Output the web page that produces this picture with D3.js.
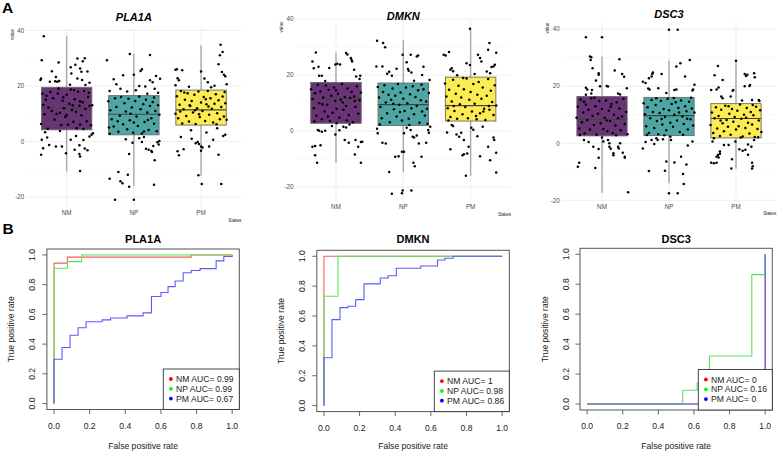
<!DOCTYPE html>
<html><head><meta charset="utf-8">
<script src="https://cdn.jsdelivr.net/npm/d3@7"></script>
<style>body{margin:0;background:#fff}svg{display:block;font-family:"Liberation Sans",Arial,Helvetica,sans-serif}</style>
</head><body><svg id="c" width="777" height="454"></svg>
<script>
// ---------------- DATA ----------------
const genes = ["PLA1A", "DMKN", "DSC3"];
const states = ["NM", "NP", "PM"];
const stateColors = ["#440154", "#21908C", "#FDE725"];
const yTickValues = [-20, 0, 20, 40];
const yMinorValues = [-10, 10, 30];

// box statistics per gene: [NM, NP, PM]
const q1Values = [[4.2, 2.4, 5.9], [2.8, 2.0, 3.6], [2.6, 2.7, 1.9]];
const medianValues = [[11.9, 9.8, 11.4], [11.6, 9.5, 9.1], [8.4, 9.7, 8.7]];
const q3Values = [[19.5, 16.5, 18.5], [17.4, 17.2, 19.3], [16.4, 16.1, 13.9]];
const whiskerLow = [[-10.8, -16.1, -12.3], [-11.3, -14.7, -16.0], [-17.3, -14.0, -8.9]];
const whiskerHigh = [[37.9, 31.7, 34.6], [28.1, 32.6, 36.6], [30.4, 29.0, 29.0]];

// jittered points: [jitter (fraction of category step), value]
const pla1aNM = [[-0.34,37.9],[-0.37,29.2],[-0.22,25.3],[-0.12,28.4],[0.16,29.9],[0.24,28.9],[0.27,30.0],[0.06,26.7],[0.13,27.6],[0.2,26.3],[0.22,25.1],[0.31,25.2],[-0.38,22.7],[-0.39,22.1],[-0.25,21.5],[-0.17,21.7],[-0.14,21.5],[-0.11,21.8],[-0.16,23.2],[0.07,24.5],[0.16,22.7],[0.23,22.1],[0.34,21.1],[0.05,20.4],[0.28,20.3],
[-0.36,17.2],[-0.3,16.5],[-0.33,9.8],[-0.35,13.1],[-0.27,12.2],[-0.24,17.8],[-0.2,15.6],[-0.18,7.8],[-0.15,9.9],[-0.13,17.3],[-0.1,10.3],[-0.08,5.9],[-0.06,14.7],[-0.04,12.0],[-0.02,8.9],[0.0,16.8],[0.02,6.0],[0.04,13.6],[0.06,18.7],[0.08,11.3],[0.1,7.1],[0.12,15.2],[0.14,10.7],[0.15,4.8],[0.17,17.9],[0.19,12.9],[0.2,6.1],[0.22,9.4],[0.24,14.1],[0.26,18.2],[0.28,11.8],[0.3,7.3],[0.32,16.1],[0.34,12.9],[0.36,5.8],[0.38,13.0],[-0.38,6.3],[-0.28,4.6],[-0.22,11.0],[-0.12,19.1],[0.0,9.5],[0.11,18.5],[0.25,4.5],[0.33,17.5],[-0.05,15.9],[0.2,14.5],[-0.31,15.0],[0.09,13.0],
[-0.38,-4.8],[-0.37,0.6],[-0.29,1.4],[-0.26,-1.3],[-0.35,-2.4],[-0.16,-1.8],[-0.07,-1.8],[-0.01,-4.2],[0.06,0.6],[0.12,-3.0],[0.19,-1.4],[0.19,-4.5],[0.2,-5.4],[0.2,-10.6],[0.27,-2.5],[0.31,-3.2],[0.37,2.4],[0.34,1.8],[-0.32,3.3],[0.25,0.5],[0.14,2.0],[-0.1,3.8],[0.39,3.0]];
const pla1aNP = [[-0.4,29.2],[-0.06,31.5],[0.24,31.1],[0.0,24.0],[0.1,25.4],[0.12,26.0],[-0.3,22.4],[-0.26,20.6],[-0.2,19.0],[-0.16,23.8],[-0.1,18.0],[0.03,18.4],[0.08,20.0],[0.17,19.8],[0.24,22.0],[0.28,21.3],[0.31,19.0],[0.36,17.5],[0.39,22.6],[0.33,23.6],[-0.36,18.2],[0.2,17.2],
[-0.38,14.5],[-0.35,11.2],[-0.33,8.0],[-0.3,5.4],[-0.28,15.6],[-0.26,12.4],[-0.23,3.5],[-0.21,9.3],[-0.19,16.0],[-0.16,6.2],[-0.14,13.8],[-0.12,10.8],[-0.1,4.4],[-0.08,15.4],[-0.06,7.6],[-0.03,12.2],[-0.01,3.1],[0.02,14.6],[0.04,9.0],[0.06,5.6],[0.08,16.2],[0.1,11.6],[0.12,2.9],[0.14,13.4],[0.16,7.0],[0.18,15.0],[0.2,10.4],[0.22,4.1],[0.24,12.8],[0.26,8.4],[0.28,14.2],[0.3,6.4],[0.32,11.0],[0.34,3.7],[0.36,13.0],[0.38,9.6],[-0.36,2.8],[-0.24,7.3],[0.0,6.8],[0.15,3.6],[0.3,15.8],[-0.05,10.0],[0.21,7.7],[-0.37,5.0],
[-0.36,-13.4],[-0.23,-11.0],[-0.2,-14.3],[-0.17,-15.0],[-0.09,-12.0],[-0.07,-16.3],[-0.28,-21.0],[0.0,-21.0],[-0.07,-4.5],[-0.02,-0.5],[0.08,1.2],[0.12,-0.2],[0.18,-2.6],[0.26,-3.4],[0.27,-3.8],[0.29,-1.6],[0.31,-6.8],[0.35,-0.3],[0.37,-1.1],[0.38,0.2],[0.3,-15.6],[0.15,1.6],[-0.12,0.8],[0.22,-3.0]];
const pla1aPM = [[0.29,34.8],[0.32,32.2],[0.28,31.0],[0.26,27.8],[0.0,25.2],[-0.38,25.8],[-0.36,26.0],[-0.28,25.6],[-0.35,22.8],[-0.33,22.0],[-0.38,20.2],[0.05,22.7],[0.15,19.5],[0.31,25.0],[0.34,24.0],[0.38,20.6],[0.36,23.5],[0.1,21.3],[-0.18,19.7],[0.2,20.1],
[-0.38,10.0],[-0.36,16.3],[-0.34,8.4],[-0.32,13.2],[-0.3,18.2],[-0.28,6.5],[-0.26,11.6],[-0.24,15.0],[-0.22,9.2],[-0.2,17.4],[-0.18,7.2],[-0.16,12.8],[-0.14,14.6],[-0.12,10.4],[-0.1,16.8],[-0.08,6.3],[-0.06,12.0],[-0.04,18.0],[-0.02,8.8],[0.0,14.0],[0.02,11.0],[0.04,16.0],[0.06,7.4],[0.08,13.4],[0.1,18.2],[0.12,9.6],[0.14,15.6],[0.16,11.8],[0.18,6.8],[0.2,13.6],[0.22,17.0],[0.24,10.2],[0.26,14.8],[0.28,8.0],[0.3,12.4],[0.32,16.2],[0.34,9.0],[0.36,13.8],[0.38,7.8],[-0.31,10.8],[-0.17,13.0],[-0.03,9.8],[0.11,12.6],[0.23,6.2],[0.35,17.8],[-0.25,17.6],[0.07,15.2],[-0.09,11.2],
[-0.35,-3.5],[-0.33,-5.0],[-0.26,-2.8],[-0.14,1.0],[-0.08,-0.6],[-0.05,-0.2],[-0.03,-0.9],[0.0,-1.8],[0.0,-3.3],[0.02,-2.2],[-0.04,-12.2],[0.01,-15.3],[0.3,-15.3],[0.26,-4.8],[0.12,-1.8],[0.18,0.6],[0.33,2.0],[0.36,2.4],[0.24,4.8],[-0.15,4.0],[0.08,3.2],[-0.3,1.6]];

const dmknNM = [[-0.3,28.1],[-0.35,24.9],[-0.33,22.5],[-0.26,23.0],[-0.25,19.8],[-0.21,19.8],[-0.1,22.6],[-0.01,23.8],[0.02,24.1],[0.15,27.9],[0.17,27.4],[0.22,26.1],[0.24,24.9],[0.27,21.9],[0.3,19.5],[0.36,19.8],[0.35,18.6],[0.23,25.5],[0.06,23.8],[-0.16,17.9],
[-0.37,15.0],[-0.35,11.5],[-0.33,8.2],[-0.31,13.5],[-0.29,5.5],[-0.27,16.6],[-0.25,10.0],[-0.23,14.2],[-0.21,4.2],[-0.19,12.0],[-0.17,7.0],[-0.15,16.3],[-0.13,9.4],[-0.11,14.8],[-0.09,3.6],[-0.07,12.6],[-0.05,6.6],[-0.03,15.6],[-0.01,10.8],[0.01,8.0],[0.03,13.4],[0.05,4.8],[0.07,11.2],[0.09,16.8],[0.11,7.6],[0.13,12.2],[0.15,9.0],[0.17,15.2],[0.19,5.8],[0.21,11.8],[0.23,14.0],[0.25,3.2],[0.27,12.4],[0.29,8.6],[0.31,16.0],[0.33,6.2],[0.35,11.0],[0.37,13.8],[-0.2,9.6],[0.0,14.6],[0.16,3.8],[-0.32,3.4],[0.1,10.2],[-0.12,5.2],[0.28,10.8],
[-0.35,-5.6],[-0.31,-5.3],[-0.23,-5.1],[-0.31,-8.6],[-0.28,-11.3],[-0.21,-0.2],[-0.25,0.1],[-0.27,0.4],[-0.16,0.1],[-0.01,-1.2],[0.05,0.3],[0.11,1.6],[0.15,1.3],[0.13,-3.2],[0.19,-4.2],[0.29,-3.2],[0.33,-5.6],[0.28,-8.4],[0.37,-11.3],[0.39,-3.8],[0.37,-3.9],[0.01,2.8],[0.2,2.4],[-0.06,1.8]];
const dmknNP = [[-0.39,32.3],[-0.3,31.5],[-0.27,30.0],[-0.4,23.1],[-0.31,23.1],[-0.21,21.2],[-0.17,19.8],[-0.1,22.3],[-0.01,27.3],[0.05,24.6],[0.07,22.2],[0.08,21.6],[0.12,21.0],[0.11,27.3],[0.2,26.7],[0.22,27.0],[0.28,20.1],[0.39,18.3],[-0.24,20.5],[0.16,18.0],[0.3,23.0],
[-0.38,15.8],[-0.36,12.0],[-0.34,8.6],[-0.32,4.6],[-0.3,14.0],[-0.28,16.4],[-0.26,10.2],[-0.24,6.4],[-0.22,13.0],[-0.2,3.2],[-0.18,11.2],[-0.16,15.2],[-0.14,7.8],[-0.12,12.6],[-0.1,5.2],[-0.08,16.8],[-0.06,9.4],[-0.04,13.8],[-0.02,3.8],[0.0,11.6],[0.02,7.2],[0.04,15.6],[0.06,10.0],[0.08,4.4],[0.1,13.2],[0.12,8.2],[0.14,16.0],[0.16,6.0],[0.18,12.2],[0.2,9.0],[0.22,14.6],[0.24,3.0],[0.26,11.0],[0.28,7.0],[0.3,15.0],[0.32,5.6],[0.34,10.6],[0.36,2.6],[0.38,13.6],[-0.35,2.4],[-0.15,9.8],[0.09,2.2],[0.27,16.6],[-0.05,6.8],[0.35,8.0],
[-0.39,0.8],[-0.38,-0.8],[-0.31,-4.2],[-0.26,-4.4],[-0.12,-9.2],[-0.07,-9.0],[-0.02,-7.4],[0.01,-7.4],[0.01,-0.8],[-0.21,-14.6],[0.05,1.2],[0.11,0.4],[0.14,-2.0],[0.16,-2.3],[0.2,-1.6],[0.23,-4.4],[0.27,-9.2],[0.15,-11.3],[0.17,-12.6],[0.34,-4.2],[0.38,-0.6],[0.37,0.4],[0.4,1.6],[-0.02,-22.2],[-0.01,-21.2],[-0.17,-22.4],[0.12,-21.2]];
const dmknPM = [[-0.01,36.6],[-0.4,27.3],[-0.37,27.0],[-0.32,28.3],[-0.28,22.5],[-0.3,21.9],[-0.26,21.4],[-0.06,24.3],[-0.01,23.6],[0.11,27.3],[0.16,24.9],[0.14,26.1],[0.26,29.1],[0.28,31.5],[0.34,23.1],[0.31,22.9],[0.36,23.7],[0.24,21.3],[0.29,20.7],[0.06,20.4],[-0.2,20.0],[0.38,28.0],
[-0.38,17.0],[-0.36,12.4],[-0.34,8.2],[-0.32,14.8],[-0.3,5.0],[-0.28,10.6],[-0.26,18.4],[-0.24,7.2],[-0.22,13.4],[-0.2,4.4],[-0.18,16.2],[-0.16,9.6],[-0.14,12.0],[-0.12,6.0],[-0.1,15.0],[-0.08,8.6],[-0.06,18.8],[-0.04,4.6],[-0.02,11.2],[0.0,14.0],[0.02,7.0],[0.04,16.8],[0.06,9.8],[0.08,5.4],[0.1,13.0],[0.12,17.6],[0.14,6.4],[0.16,11.6],[0.18,15.6],[0.2,8.0],[0.22,4.0],[0.24,12.6],[0.26,18.6],[0.28,7.6],[0.3,14.4],[0.32,10.4],[0.34,5.8],[0.36,16.4],[0.38,9.2],[-0.33,3.8],[-0.11,19.0],[0.09,4.2],[0.27,9.0],[-0.25,9.0],[0.19,7.0],
[-0.28,2.2],[-0.26,1.8],[-0.3,-6.5],[-0.21,-1.2],[-0.17,-2.0],[-0.14,-0.6],[-0.1,-3.2],[-0.12,-8.6],[-0.1,-8.3],[-0.05,-8.0],[-0.03,-5.6],[0.01,1.2],[0.1,-1.8],[0.14,-9.0],[0.18,1.6],[0.26,-5.6],[0.29,-10.4],[0.34,-2.3],[0.35,-3.2],[0.38,-7.7],[0.38,-14.8],[-0.07,-16.0],[-0.35,-0.5],[0.04,0.5]];

const dsc3NM = [[-0.24,37.2],[0.0,37.2],[-0.18,30.4],[-0.16,30.2],[-0.17,29.2],[-0.14,26.3],[-0.05,24.6],[-0.05,24.0],[-0.24,19.5],[-0.22,18.9],[-0.24,17.0],[-0.15,18.7],[-0.16,17.5],[-0.09,22.0],[0.07,20.1],[0.09,19.9],[0.19,25.5],[0.26,29.5],[0.3,24.3],[0.33,23.3],[0.37,19.3],[0.24,17.5],[0.27,17.1],[-0.03,20.0],
[-0.38,9.0],[-0.36,12.8],[-0.34,5.2],[-0.32,15.4],[-0.3,7.4],[-0.28,10.8],[-0.26,3.4],[-0.24,13.6],[-0.22,8.2],[-0.2,11.8],[-0.18,4.8],[-0.16,15.8],[-0.14,9.6],[-0.12,6.4],[-0.1,13.0],[-0.08,3.0],[-0.06,10.4],[-0.04,14.8],[-0.02,7.0],[0.0,12.0],[0.02,5.0],[0.04,9.0],[0.06,15.0],[0.08,4.2],[0.1,11.4],[0.12,7.8],[0.14,13.8],[0.16,3.6],[0.18,10.0],[0.2,6.2],[0.22,14.4],[0.24,8.8],[0.26,12.2],[0.28,4.6],[0.3,9.4],[0.32,15.6],[0.34,6.8],[0.36,11.0],[0.38,3.2],[-0.33,2.9],[-0.11,16.0],[0.07,8.0],[0.21,2.8],[-0.27,14.6],[0.13,12.8],
[-0.36,-8.2],[-0.34,-6.8],[-0.27,1.2],[-0.13,-1.2],[-0.1,-8.7],[-0.05,-2.0],[-0.05,-5.1],[0.02,0.6],[0.09,1.2],[0.11,0.0],[0.11,-1.2],[0.13,-1.9],[0.17,-3.5],[0.17,-4.2],[0.24,-1.2],[0.25,-1.8],[0.27,0.0],[0.31,-3.3],[0.34,-4.7],[0.34,-5.1],[0.39,-17.2],[0.0,2.0],[-0.2,0.5]];
const dsc3NP = [[0.0,39.8],[0.13,39.8],[-0.39,21.6],[-0.35,21.1],[-0.29,18.9],[-0.25,24.3],[-0.24,24.8],[-0.26,23.4],[-0.3,22.8],[-0.11,24.3],[-0.16,19.3],[0.11,26.9],[0.17,28.1],[0.24,23.4],[0.31,29.2],[0.35,18.5],[0.36,18.9],[0.38,20.5],[0.08,18.7],[0.11,18.9],[-0.04,17.6],[-0.31,19.2],
[-0.38,14.0],[-0.36,10.2],[-0.34,6.0],[-0.32,12.6],[-0.3,3.6],[-0.28,8.8],[-0.26,15.2],[-0.24,11.0],[-0.22,5.4],[-0.2,13.4],[-0.18,7.8],[-0.16,3.2],[-0.14,10.6],[-0.12,14.8],[-0.1,6.6],[-0.08,12.0],[-0.06,9.2],[-0.04,4.6],[-0.02,15.6],[0.0,11.6],[0.02,7.2],[0.04,13.8],[0.06,5.8],[0.08,10.0],[0.1,14.4],[0.12,8.0],[0.14,12.4],[0.16,4.0],[0.18,15.0],[0.2,9.4],[0.22,6.8],[0.24,13.0],[0.26,11.2],[0.28,4.8],[0.3,14.6],[0.32,8.4],[0.34,12.2],[0.36,6.2],[0.38,10.8],[-0.33,2.9],[-0.19,15.8],[-0.07,2.8],[0.07,15.9],[0.21,3.0],[0.33,16.0],[-0.11,8.5],[0.15,10.8],[0.27,8.6],
[-0.39,-1.8],[-0.35,0.5],[-0.3,-9.7],[-0.26,1.2],[-0.19,1.8],[-0.17,1.2],[-0.09,1.4],[-0.06,-9.6],[-0.04,-6.4],[0.0,-17.5],[0.08,-6.7],[0.13,-17.5],[0.18,-4.7],[0.21,-10.8],[0.22,-14.3],[0.26,-7.4],[0.28,-0.8],[0.03,1.2],[0.02,2.3],[-0.22,-0.2],[0.35,0.6]];
const dsc3PM = [[0.0,28.9],[-0.27,27.1],[-0.32,23.9],[-0.2,22.2],[-0.26,19.6],[-0.29,18.9],[-0.37,18.7],[-0.22,16.4],[-0.2,15.8],[-0.08,16.4],[-0.05,18.4],[-0.04,18.7],[0.13,24.3],[0.15,23.6],[0.17,24.0],[0.27,24.6],[0.28,23.2],[0.2,20.1],[0.21,20.4],[0.24,15.2],[0.34,15.2],[0.35,14.8],[0.13,20.0],[0.09,15.0],
[-0.38,6.4],[-0.36,10.8],[-0.34,3.6],[-0.32,8.8],[-0.3,12.6],[-0.28,5.2],[-0.26,9.6],[-0.24,2.6],[-0.22,11.8],[-0.2,7.0],[-0.18,4.2],[-0.16,13.2],[-0.14,8.2],[-0.12,5.8],[-0.1,10.4],[-0.08,3.0],[-0.06,12.0],[-0.04,7.6],[-0.02,9.2],[0.0,4.8],[0.02,11.4],[0.04,6.0],[0.06,13.6],[0.08,8.6],[0.1,2.4],[0.12,10.0],[0.14,5.4],[0.16,12.4],[0.18,7.2],[0.2,3.4],[0.22,11.0],[0.24,6.6],[0.26,9.8],[0.28,2.2],[0.3,12.8],[0.32,5.0],[0.34,8.0],[0.36,11.6],[0.38,4.0],[-0.33,1.8],[-0.11,13.0],[0.07,2.0],[0.25,13.4],[-0.23,8.0],[0.15,9.0],
[-0.37,-6.8],[-0.33,-7.0],[-0.29,-6.8],[-0.29,-4.7],[-0.27,-4.1],[-0.26,-5.0],[-0.24,-3.7],[-0.24,-2.9],[-0.18,-0.6],[-0.11,-0.6],[-0.07,-8.8],[-0.06,-5.6],[-0.01,0.6],[0.05,-2.1],[0.1,-2.6],[0.14,-2.3],[0.18,-4.0],[0.23,-1.2],[0.24,-6.8],[0.25,-8.0],[0.24,-8.8],[0.18,-0.4],[0.27,1.2],[0.33,2.1],[-0.35,0.6]];

// ROC curves: step points [false positive rate, true positive rate]
const rocColors = ["#ff0000", "#00dd00", "#0000ff"];
const rocTicks = [0, 0.2, 0.4, 0.6, 0.8, 1.0];
const rocPLA1A_NM = [[0,0],[0,0.945],[0.075,0.985],[0.77,1],[1,1]];
const rocPLA1A_NP = [[0,0],[0,0.91],[0.075,0.955],[0.155,1],[1,1]];
const rocPLA1A_PM = [[0,0],[0,0.298],[0.045,0.377],[0.09,0.46],[0.135,0.51],[0.18,0.55],[0.27,0.563],[0.318,0.576],[0.41,0.59],[0.5,0.61],[0.547,0.72],[0.6,0.747],[0.64,0.787],[0.68,0.825],[0.725,0.88],[0.77,0.895],[0.82,0.908],[0.91,0.96],[0.953,0.99],[1,1]];
const rocDMKN_NM = [[0,0],[0,1],[1,1]];
const rocDMKN_NP = [[0,0],[0,0.732],[0.079,1],[1,1]];
const rocDMKN_PM = [[0,0],[0,0.321],[0.045,0.576],[0.09,0.656],[0.135,0.665],[0.178,0.71],[0.225,0.815],[0.316,0.855],[0.36,0.87],[0.406,0.92],[0.543,0.935],[0.637,0.975],[0.678,0.987],[0.725,1],[1,1]];
const rocDSC3_NM = [[0,0],[1,0],[1,1]];
const rocDSC3_NP = [[0,0],[0.537,0.092],[0.618,0.14],[0.687,0.321],[0.925,0.864],[1,1]];
const rocDSC3_PM = [[0,0],[1,0],[1,1]];
const aucPLA1A = ["0.99", "0.99", "0.67"];
const aucDMKN = ["1", "0.98", "0.86"];
const aucDSC3 = ["0", "0.16", "0"];

// ---------------- DRAWING ----------------
const svg = d3.select("#c");
const pointSets = [[pla1aNM, pla1aNP, pla1aPM], [dmknNM, dmknNP, dmknPM], [dsc3NM, dsc3NP, dsc3PM]];

const boxLayout = [
  {left: 26.3, right: 241.4, top: 28, bottom: 208, titleY: 21},
  {left: 295.6, right: 511, top: 20.5, bottom: 202, titleY: 19.5},
  {left: 561.8, right: 776.2, top: 21.6, bottom: 201.4, titleY: 17.5}
];

svg.append("text").attr("x", 2).attr("y", 12.5).attr("font-size", 15.5).attr("font-weight", "bold").text("A");
svg.append("text").attr("x", 2.5).attr("y", 233.5).attr("font-size", 15.5).attr("font-weight", "bold").text("B");

genes.forEach((gene, gi) => {
  const L = boxLayout[gi];
  const g = svg.append("g");
  const pts = pointSets[gi];
  const allVals = [];
  pts.forEach(a => a.forEach(p => allVals.push(p[1])));
  whiskerLow[gi].forEach(v => allVals.push(v));
  whiskerHigh[gi].forEach(v => allVals.push(v));
  const ext = d3.extent(allVals);
  const pad = (ext[1] - ext[0]) * 0.05;
  const y = d3.scaleLinear().domain([ext[0] - pad, ext[1] + pad]).range([L.bottom, L.top]);
  const x = d3.scalePoint().domain(states).range([L.left, L.right]).padding(0.6);
  const step = x.step();

  // grid
  g.selectAll(".minor").data(yMinorValues).enter().append("line")
    .attr("x1", L.left).attr("x2", L.right).attr("y1", d => y(d)).attr("y2", d => y(d))
    .attr("stroke", "#f3f3f3").attr("stroke-width", 0.5);
  g.selectAll(".major").data(yTickValues).enter().append("line")
    .attr("x1", L.left).attr("x2", L.right).attr("y1", d => y(d)).attr("y2", d => y(d))
    .attr("stroke", "#ebebeb").attr("stroke-width", 0.8);
  g.selectAll(".vgrid").data(states).enter().append("line")
    .attr("x1", d => x(d)).attr("x2", d => x(d)).attr("y1", L.top).attr("y2", L.bottom)
    .attr("stroke", "#ebebeb").attr("stroke-width", 0.8);

  // axes labels
  g.selectAll(".yt").data(yTickValues).enter().append("text")
    .attr("x", L.left - 2).attr("y", d => y(d)).attr("dy", "0.35em").attr("text-anchor", "end")
    .attr("font-size", 6.3).attr("fill", "#4d4d4d").text(d => d);
  g.selectAll(".xt").data(states).enter().append("text")
    .attr("x", d => x(d)).attr("y", L.bottom + 7.2).attr("text-anchor", "middle")
    .attr("font-size", 6.3).attr("fill", "#4d4d4d").text(d => d);
  g.append("text").attr("transform", `translate(${L.left - 12.5},${L.top + 1}) rotate(-90)`)
    .attr("text-anchor", "end").attr("font-size", 4.6).attr("fill", "#222").text("value");
  g.append("text").attr("x", L.right).attr("y", L.bottom + 13.5).attr("text-anchor", "end")
    .attr("font-size", 4.6).attr("fill", "#222").text("States");
  g.append("text").attr("x", (L.left + L.right) / 2).attr("y", L.titleY).attr("text-anchor", "middle")
    .attr("font-size", 11).attr("font-weight", "bold").attr("font-style", "italic").text(gene);

  states.forEach((s, si) => {
    const cx = x(s);
    const hw = step * 0.375;
    // whiskers
    g.append("line").attr("x1", cx).attr("x2", cx).attr("y1", y(q3Values[gi][si])).attr("y2", y(whiskerHigh[gi][si]))
      .attr("stroke", "#a8a8a8").attr("stroke-width", 1.4);
    g.append("line").attr("x1", cx).attr("x2", cx).attr("y1", y(q1Values[gi][si])).attr("y2", y(whiskerLow[gi][si]))
      .attr("stroke", "#a8a8a8").attr("stroke-width", 1.4);
    g.append("rect").attr("x", cx - hw).attr("width", 2 * hw)
      .attr("y", y(q3Values[gi][si])).attr("height", y(q1Values[gi][si]) - y(q3Values[gi][si]))
      .attr("fill", stateColors[si]).attr("fill-opacity", 0.8)
      .attr("stroke", "#6a6a6a").attr("stroke-width", 0.9);
    g.append("line").attr("x1", cx - hw).attr("x2", cx + hw)
      .attr("y1", y(medianValues[gi][si])).attr("y2", y(medianValues[gi][si]))
      .attr("stroke", "#444").attr("stroke-width", 1.2);
  });
  states.forEach((s, si) => {
    g.selectAll(null).data(pts[si]).enter().append("circle")
      .attr("cx", d => x(s) + d[0] * step).attr("cy", d => y(d[1])).attr("r", 1.25).attr("fill", "#000");
  });
});

// ROC panels
const rocSets = [[rocPLA1A_NM, rocPLA1A_NP, rocPLA1A_PM], [rocDMKN_NM, rocDMKN_NP, rocDMKN_PM], [rocDSC3_NM, rocDSC3_NP, rocDSC3_PM]];
const aucSets = [aucPLA1A, aucDMKN, aucDSC3];
const rocLayout = [
  {left: 46.9, right: 239.3, top: 249, bottom: 409.5, legendW: 76},
  {left: 316.8, right: 509.3, top: 250.3, bottom: 411.6, legendW: 75},
  {left: 580, right: 772.3, top: 248.3, bottom: 410, legendW: 74}
];
const lineColors = ["#ff5a5a", "#5ae65a", "#5a5aff"];

genes.forEach((gene, gi) => {
  const L = rocLayout[gi];
  const g = svg.append("g");
  const x = d3.scaleLinear().domain([-0.04, 1.04]).range([L.left, L.right]);
  const y = d3.scaleLinear().domain([-0.04, 1.04]).range([L.bottom, L.top]);
  const line = d3.line().x(d => x(d[0])).y(d => y(d[1])).curve(d3.curveStepAfter);
  rocSets[gi].forEach((curve, ci) => {
    g.append("path").attr("d", line(curve)).attr("fill", "none")
      .attr("stroke", lineColors[ci]).attr("stroke-width", 1.1);
  });
  // box
  g.append("rect").attr("x", L.left).attr("y", L.top).attr("width", L.right - L.left).attr("height", L.bottom - L.top)
    .attr("fill", "none").attr("stroke", "#555").attr("stroke-width", 1);
  // ticks
  g.selectAll(".xtick").data(rocTicks).enter().append("line")
    .attr("x1", d => x(d)).attr("x2", d => x(d)).attr("y1", L.bottom).attr("y2", L.bottom + 4.5)
    .attr("stroke", "#555").attr("stroke-width", 0.9);
  g.selectAll(".ytick").data(rocTicks).enter().append("line")
    .attr("y1", d => y(d)).attr("y2", d => y(d)).attr("x1", L.left).attr("x2", L.left - 4.5)
    .attr("stroke", "#555").attr("stroke-width", 0.9);
  g.selectAll(".xtl").data(rocTicks).enter().append("text")
    .attr("x", d => x(d)).attr("y", L.bottom + 19).attr("text-anchor", "middle")
    .attr("font-size", 8.6).attr("fill", "#222").text(d => d.toFixed(1));
  g.selectAll(".ytl").data(rocTicks).enter().append("text")
    .attr("transform", d => `translate(${L.left - 14.5},${y(d)}) rotate(-90)`)
    .attr("dy", "0.35em").attr("text-anchor", "middle")
    .attr("font-size", 8.6).attr("fill", "#222").text(d => d.toFixed(1));
  g.append("text").attr("x", (L.left + L.right) / 2).attr("y", 242.8).attr("text-anchor", "middle")
    .attr("font-size", 11).attr("font-weight", "bold").text(gene);
  g.append("text").attr("x", (L.left + L.right) / 2).attr("y", 448.6).attr("text-anchor", "middle")
    .attr("font-size", 8.6).attr("fill", "#222").text("False positive rate");
  g.append("text").attr("transform", `translate(${L.left - 35.5},${(L.top + L.bottom) / 2}) rotate(-90)`)
    .attr("dy", "0.35em").attr("text-anchor", "middle")
    .attr("font-size", 8.6).attr("fill", "#222").text("True positive rate");
  // legend
  const lx = L.right - L.legendW, ly = L.bottom - 40.5;
  g.append("rect").attr("x", lx).attr("y", ly).attr("width", L.legendW).attr("height", L.bottom - ly)
    .attr("fill", "#fff").attr("stroke", "#333").attr("stroke-width", 0.9);
  states.forEach((s, si) => {
    const ry = ly + 10 + si * 9.8;
    g.append("circle").attr("cx", lx + 7.6).attr("cy", ry).attr("r", 1.9).attr("fill", rocColors[si] === "#00dd00" ? "#00ff00" : rocColors[si]);
    g.append("text").attr("x", lx + 12.8).attr("y", ry).attr("dy", "0.35em")
      .attr("font-size", 8.6).attr("fill", "#222").text(`${s} AUC= ${aucSets[gi][si]}`);
  });
});
</script></body></html>
